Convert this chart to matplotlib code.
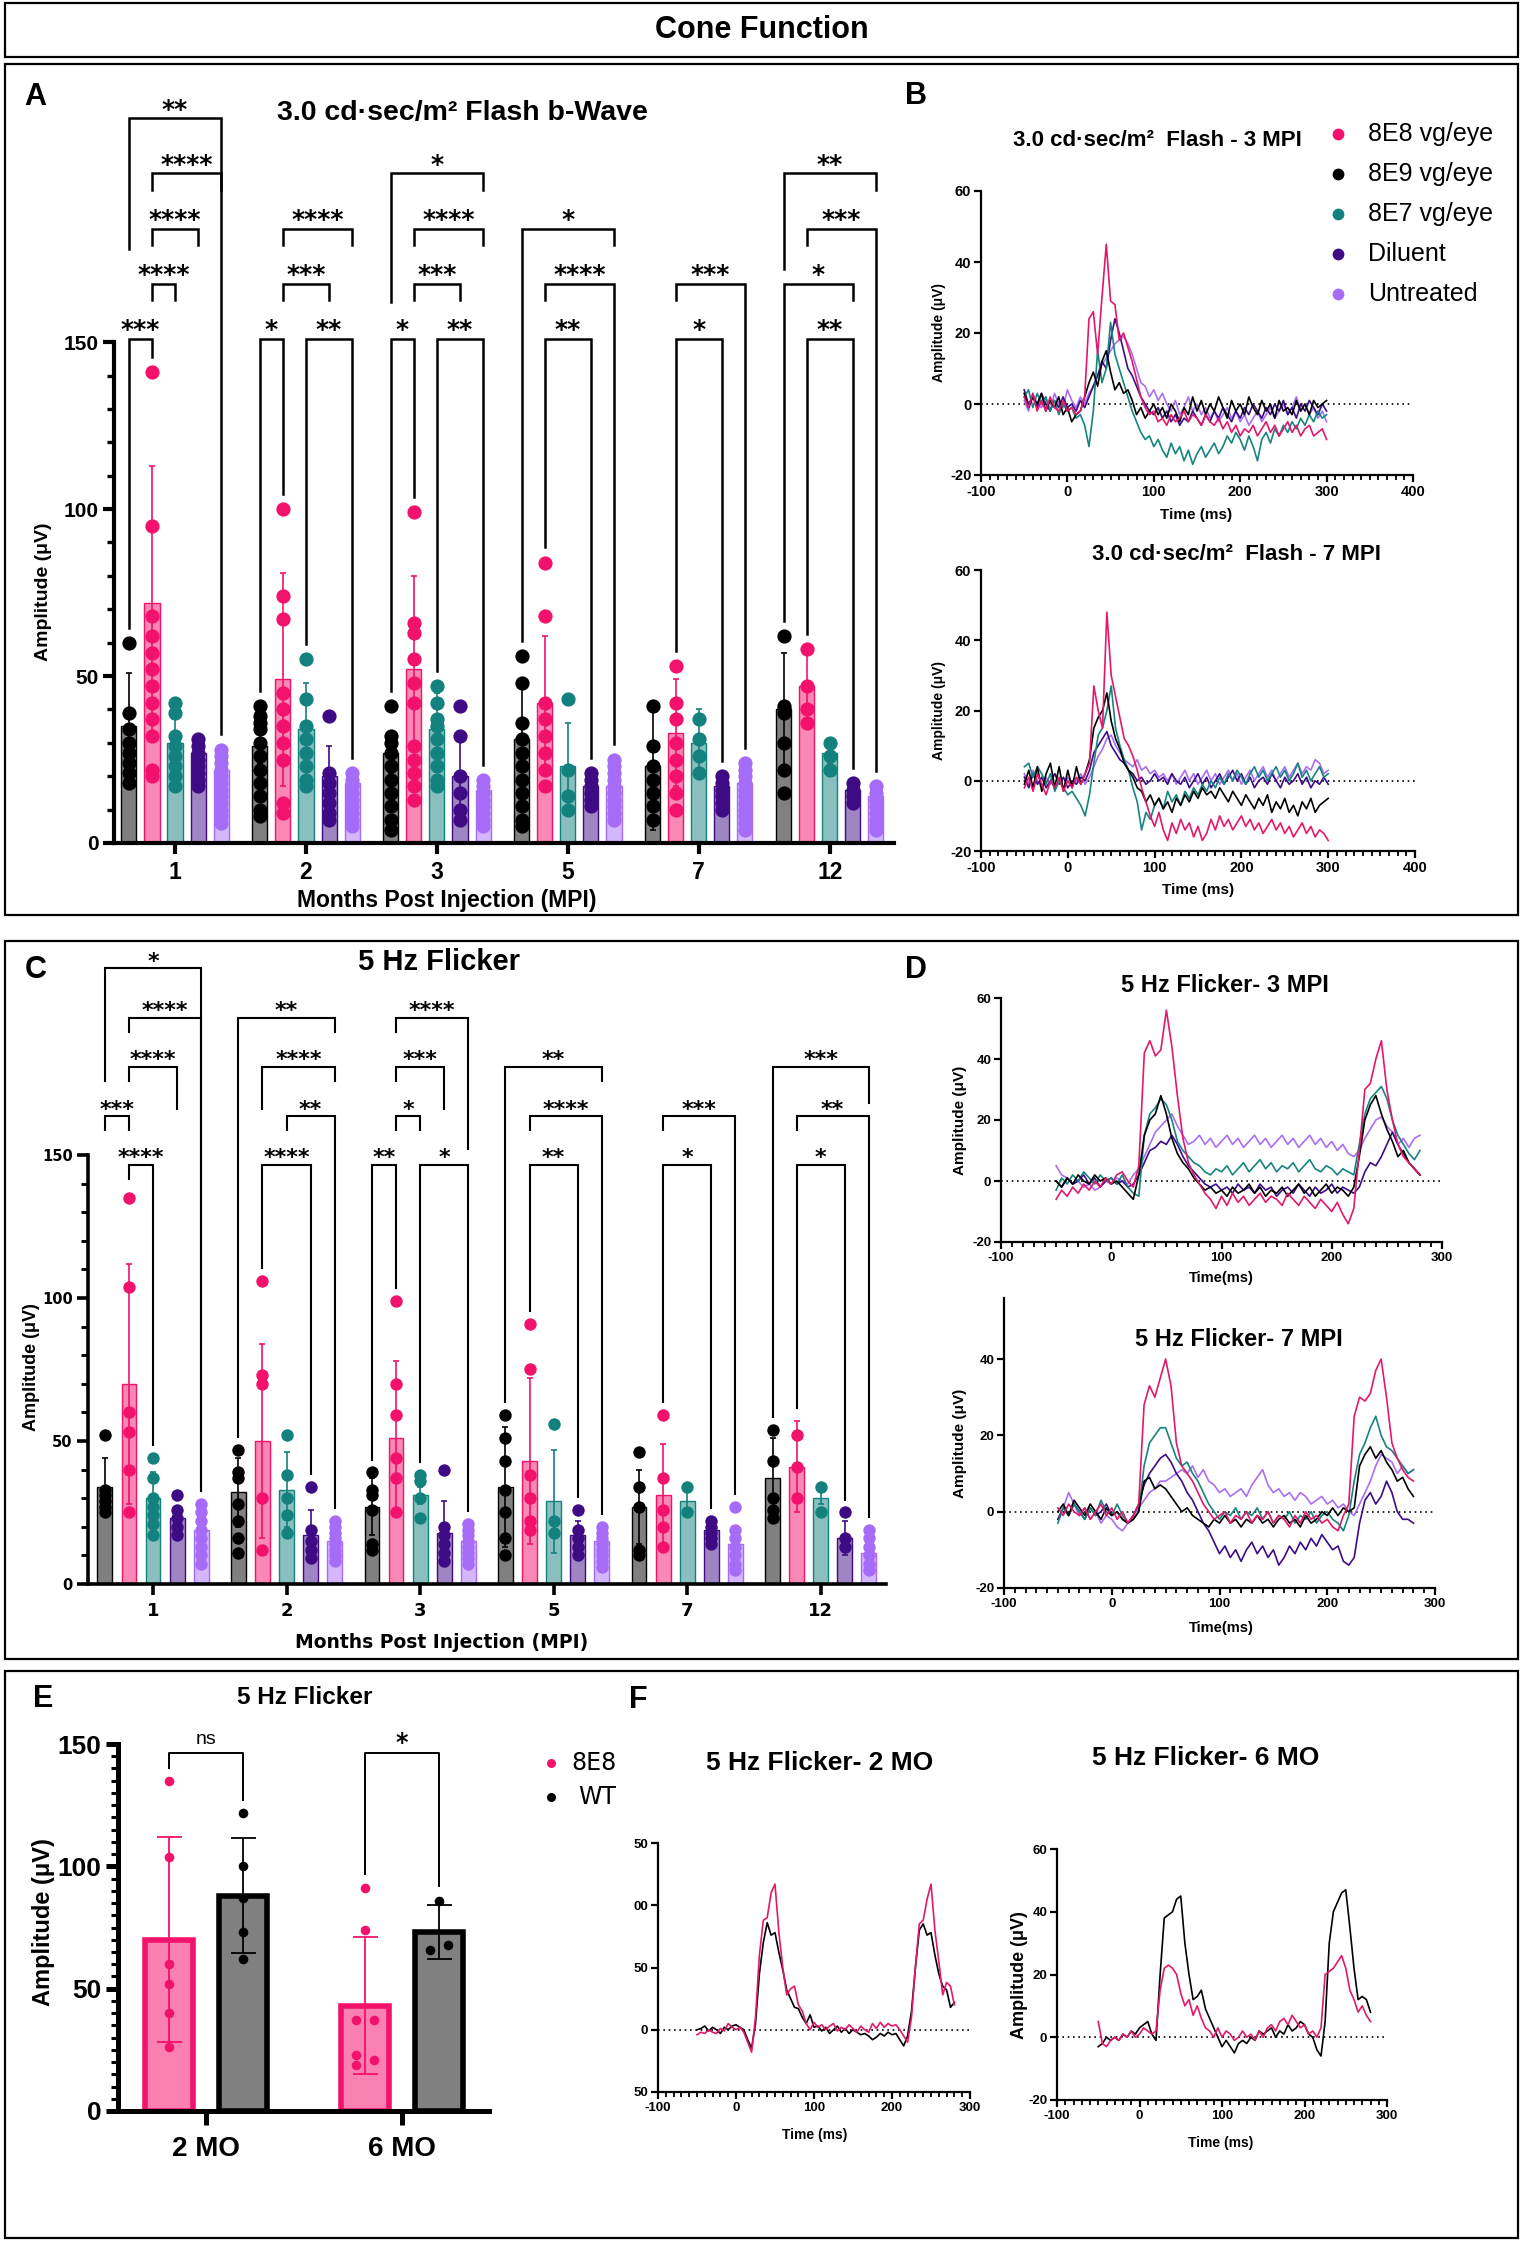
import numpy as np
import matplotlib
matplotlib.use('Agg')
import matplotlib.pyplot as plt
from matplotlib import colors as mcolors
from matplotlib.font_manager import FontProperties
from matplotlib.patches import Rectangle

# ------------------------------------------------------------------ data
MPI = ['1', '2', '3', '5', '7', '12']
SERIES = ['8E9 vg/eye', '8E8 vg/eye', '8E7 vg/eye', 'Diluent', 'Untreated']   # bar order
COLORS = ['#000000', '#F2116B', '#13817E', '#3E0B84', '#A66CF7']
LEGEND_ORDER = [1, 0, 2, 3, 4]

# Panel A: 3.0 cd.s/m2 flash b-wave (uV)
A_MEAN = [[35, 72, 30, 27, 22], [29, 49, 34, 20, 18], [27, 52, 34, 20, 16],
          [31, 42, 23, 17, 17], [23, 33, 30, 17, 18], [40, 47, 27, 16, 14]]
A_SD = [[16, 41, 7, 3, 5], [5, 32, 14, 9, 3], [6, 28, 11, 12, 3],
        [17, 20, 13, 3, 4], [19, 16, 10, 2, 4], [17, 10, 3, 2, 3]]
A_DOTS = [
    [[60, 39, 34, 30, 27, 24, 21, 18], [141, 95, 68, 62, 57, 52, 47, 42, 37, 32, 22, 20],
     [42, 39, 32, 29, 26, 23, 20, 17], [31, 29, 27, 25, 23, 21, 19, 17],
     [28, 26, 24, 22, 20, 18, 16, 14, 12, 10, 8, 6]],
    [[41, 38, 36, 34, 30, 26, 22, 18, 14, 10, 8], [100, 74, 67, 45, 40, 35, 30, 25, 12, 9],
     [55, 43, 35, 31, 27, 23, 19, 17], [38, 21, 18, 15, 12, 9, 7], [21, 19, 17, 15, 13, 11, 9, 7, 5]],
    [[41, 32, 30, 27, 23, 19, 15, 11, 7, 4], [99, 66, 63, 55, 48, 42, 29, 25, 21, 17, 13],
     [47, 42, 37, 35, 31, 27, 23, 19, 17], [41, 32, 20, 15, 10, 7], [19, 17, 15, 13, 11, 9, 7, 5]],
    [[56, 48, 36, 31, 27, 23, 19, 15, 11, 7, 5], [84, 68, 42, 37, 32, 27, 22, 17],
     [43, 22, 14, 10], [21, 19, 17, 15, 13, 11], [25, 23, 21, 19, 17, 15, 13, 11, 9, 7]],
    [[41, 29, 23, 19, 15, 11, 7], [53, 42, 37, 30, 25, 20, 15, 10], [37, 31, 26, 21],
     [20, 18, 16, 14, 12, 10], [24, 22, 20, 18, 16, 14, 12, 10, 8, 6, 4]],
    [[62, 41, 40, 39, 30, 22, 15], [58, 47, 40, 36], [30, 26, 22], [18, 16, 14, 12],
     [17, 15, 13, 11, 9, 7, 5, 4]],
]
A_ROWS = [151, 167.5, 184, 200.5, 217]
# (group, bar i, bar j, row, label, left leg end, right leg end)  S=short, L=to bar top
A_BRACKETS = [
    (0, 0, 1, 0, '***', 'L', 'L'), (0, 1, 2, 1, '****', 'S', 'S'), (0, 1, 3, 2, '****', 'S', 'S'),
    (0, 1, 4, 3, '****', 'S', 'S'), (0, 0, 4, 4, '**', 178, 'L'),
    (1, 0, 1, 0, '*', 'L', 'L'), (1, 2, 4, 0, '**', 'L', 'L'), (1, 1, 3, 1, '***', 'S', 'S'),
    (1, 1, 4, 2, '****', 'S', 'S'),
    (2, 0, 1, 0, '*', 'L', 'L'), (2, 2, 4, 0, '**', 'L', 'L'), (2, 1, 3, 1, '***', 'S', 'S'),
    (2, 1, 4, 2, '****', 'S', 'S'), (2, 0, 4, 3, '*', 162, 'S'),
    (3, 1, 3, 0, '**', 'L', 'L'), (3, 1, 4, 1, '****', 'S', 'L'), (3, 0, 4, 2, '*', 'L', 'S'),
    (4, 1, 3, 0, '*', 'L', 'L'), (4, 1, 4, 1, '***', 'S', 'L'),
    (5, 1, 3, 0, '**', 'L', 'L'), (5, 0, 3, 1, '*', 'L', 'S'), (5, 1, 4, 2, '***', 'S', 'L'),
    (5, 0, 4, 3, '**', 172, 'S'),
]

# Panel C: 5 Hz flicker (uV)
C_MEAN = [[34, 70, 30, 23, 19], [32, 50, 33, 17, 15], [27, 51, 31, 18, 15],
          [34, 43, 29, 17, 15], [27, 31, 29, 19, 14], [37, 41, 30, 16, 11]]
C_SD = [[10, 42, 9, 4, 4], [12, 34, 13, 9, 3], [10, 27, 3, 11, 3],
        [21, 29, 18, 5, 3], [13, 18, 3, 3, 4], [14, 16, 2, 6, 3]]
C_DOTS = [
    [[52, 33, 31, 29, 27, 25], [135, 104, 60, 53, 40, 25], [44, 37, 30, 27, 24, 21, 17],
     [31, 26, 23, 20, 17], [28, 25, 22, 19, 16, 13, 10, 7]],
    [[47, 39, 37, 28, 22, 16, 11], [106, 73, 70, 30, 12], [52, 38, 30, 24, 18],
     [34, 19, 15, 12, 9], [22, 20, 18, 16, 14, 12, 10, 8]],
    [[39, 33, 31, 26, 14, 12], [99, 70, 59, 44, 37, 25], [38, 36, 30, 23],
     [40, 20, 17, 14, 11, 8], [21, 19, 17, 15, 13, 11, 9, 7]],
    [[59, 51, 43, 33, 25, 16, 10], [91, 75, 38, 30, 22, 19], [56, 22, 18],
     [26, 19, 16, 13, 10], [20, 18, 16, 14, 12, 10, 8, 6]],
    [[46, 34, 27, 12, 10], [59, 37, 26, 20, 13], [34, 25], [22, 20, 18, 16, 14],
     [27, 19, 16, 13, 10, 7, 5]],
    [[54, 43, 30, 26, 23], [52, 41, 30], [34, 25], [25, 16, 13], [19, 16, 13, 10, 7, 5]],
]
C_ROWS = [146.5, 163.6, 180.8, 198, 215.2]
C_BRACKETS = [
    (0, 1, 2, 0, '****', 'S', 'L'), (0, 0, 1, 1, '***', 'S', 'S'), (0, 1, 3, 2, '****', 'S', 166),
    (0, 1, 4, 3, '****', 'S', 'L'), (0, 0, 4, 4, '*', 176, 'L'),
    (1, 1, 3, 0, '****', 'L', 'L'), (1, 2, 4, 1, '**', 'S', 'L'), (1, 1, 4, 2, '****', 166, 'S'),
    (1, 0, 4, 3, '**', 'L', 'S'),
    (2, 0, 1, 0, '**', 'L', 'L'), (2, 2, 4, 0, '*', 'L', 'L'), (2, 1, 2, 1, '*', 'S', 'S'),
    (2, 1, 3, 2, '***', 'S', 166), (2, 1, 4, 3, '****', 'S', 152),
    (3, 1, 3, 0, '**', 'L', 'L'), (3, 1, 4, 1, '****', 'S', 'L'), (3, 0, 4, 2, '**', 'L', 'S'),
    (4, 1, 3, 0, '*', 'L', 'L'), (4, 1, 4, 1, '***', 'S', 'L'),
    (5, 1, 3, 0, '*', 'L', 'L'), (5, 1, 4, 1, '**', 'S', 'L'), (5, 0, 4, 2, '***', 'L', 168),
]

# Panel E
E_GROUPS = ['2 MO', '6 MO']
E_MEAN_8E8 = [70, 43]
E_SD_8E8 = [42, 28]
E_MEAN_WT = [88, 73]
E_SD_WT = [23.5, 11]
E_DOTS_8E8 = [[135, 104, 60, 52, 40, 26], [91, 74, 37, 37, 23, 21, 19]]
E_SIDE_8E8 = [[0, 0, 0, 0, 0, 0], [0, 0, -1, 1, -1, 1, -1]]
E_DOTS_WT = [[122, 100, 87, 73, 62], [86, 68, 66]]
E_SIDE_WT = [[0, 0, 0, 0, 0], [0, 1, -1]]
E_SIG = ['ns', '*']
E_SIG_LEVEL = [146.5, 146.5]
E_SIG_ENDS = [(140, 127), (97, 92)]

# Waveforms (uV), sampled every 5 ms starting at -50 ms
B3_8E8 = [2,-1,3,-2,1,-2,2,-1,-2,1, -2,-1,-3,-2,2,24,26,14,30,45, 29,28,18,20,16,12,7,2,-1,-3,
          -2,-5,-4,-6,-3,-5,-4,-2,-5,-3, -4,-6,-3,-5,-6,-4,-7,-5,-8,-6, -9,-7,-8,-6,-9,-7,-5,-8,-6,-9,
          -7,-5,-8,-6,-9,-7,-6,-9,-8,-7, -10]
B3_8E9 = [3,-1,2,0,3,-2,1,-1,2,-3, -1,-5,-3,-2,2,6,9,5,12,15, 9,4,6,3,4,1,-3,-1,-4,-2,
          0,-3,-1,-4,0,-2,-5,-1,-3,2, -2,1,-3,0,-2,2,-1,-4,1,-2, 0,-3,2,-1,-3,1,-2,0,-4,1,
          -2,-1,-3,1,-2,0,-3,1,-1,0, 1]
B3_8E7 = [2,4,-1,3,0,2,-2,1,-3,0, -2,-1,-4,-3,-6,-12,-2,15,6,10, 23,14,10,6,2,-2,-5,-8,-10,-9,
          -12,-10,-13,-15,-11,-14,-12,-16,-13,-17, -14,-12,-15,-13,-11,-14,-12,-9,-11,-8,
          -10,-13,-9,-12,-16,-10,-8,-11,-7,-9, -6,-8,-5,-7,-4,-6,-3,-5,-2,-4, -3]
B3_DIL = [4,0,2,-1,3,0,-2,1,-1,2, -1,0,-2,1,-1,2,5,8,12,10, 18,24,20,15,10,8,5,2,0,-2,
          -3,-1,-4,-2,-5,-3,-6,-4,-5,-2, -4,-6,-3,-5,-2,-4,-1,-3,-5,-2, -4,-1,-3,0,-2,-4,-1,-3,0,-2,
          1,-3,-1,-4,0,-2,1,-1,-3,0, -2]
B3_UNT = [1,-2,3,0,-1,2,-2,3,0,-1, 4,1,-1,2,0,3,5,8,11,13, 15,17,18,19,17,14,10,6,5,2,
          4,1,3,0,-2,1,-3,-1,2,-2, 0,-3,-1,-4,-2,-5,-3,-1,-4,-2, -5,-3,-6,-4,-2,-5,-3,-1,-4,-2,
          0,-3,-1,2,-2,0,-3,-1,-4,-2, -5]

B7_8E8 = [-2,1,-3,2,-1,-4,0,-2,1,-3, 0,-2,1,-1,2,5,27,20,15,48, 30,24,18,12,10,7,3,-2,-6,-10,
          -13,-9,-14,-17,-12,-15,-11,-14,-12,-16, -13,-17,-15,-11,-14,-10,-13,-11,-14,-12,
          -10,-13,-11,-14,-12,-15,-13,-11,-14,-12, -15,-13,-16,-14,-12,-15,-13,-16,-14,-15, -17]
B7_8E9 = [-1,3,-2,4,-3,2,5,-2,4,-3, 3,-2,4,-1,2,6,15,18,20,25, 17,12,9,5,3,1,-2,-3,-6,-4,
          -7,-5,-8,-6,-9,-5,-7,-4,-6,-3, -5,-2,-4,-3,-5,-2,-4,-6,-3,-5, -7,-4,-6,-8,-5,-7,-4,-9,-6,-8,
          -5,-9,-7,-10,-6,-8,-5,-9,-7,-6, -5]
B7_8E7 = [4,5,1,4,2,-1,2,-3,0,-2, -4,-3,-5,-7,-10,-4,5,13,15,20, 27,15,10,6,3,-2,-6,-14,-9,-11,
          -7,-5,-8,-3,-6,-4,-7,-3,-5,-2, -4,-1,-3,0,-2,1,-1,2,0,3, 1,-1,2,4,1,3,0,2,4,1,
          3,0,2,5,1,3,0,2,4,1, 2]
B7_DIL = [1,-2,2,-1,1,-2,0,2,-1,1, -2,0,-1,1,0,3,8,10,12,14, 10,8,6,5,3,2,0,1,-1,0,
          2,0,1,-1,2,0,-1,1,-2,0, 2,-1,1,-2,0,2,-1,1,3,0, 2,-1,1,-2,0,1,-1,2,0,-2,
          1,-1,0,2,-1,1,-2,0,-1,1, -1]
B7_UNT = [2,-1,3,0,-2,1,-1,2,0,-2, 1,-1,0,2,-1,1,4,7,9,12, 13,10,8,6,5,4,6,3,4,2,
          3,1,2,0,2,-1,1,3,0,2, -1,1,3,0,2,-1,1,3,0,2, -1,1,3,0,2,4,1,3,0,2,
          4,1,3,5,2,4,3,6,5,2, 3]

D3_8E8 = [-6,-3,-5,-2,-4,-1,-3,0,-2,1, -1,2,3,0,-2,5,42,46,41,43, 56,44,28,14,6,2,-1,-4,-6,-9,
          -5,-8,-4,-7,-5,-8,-6,-4,-7,-5, -6,-8,-4,-6,-8,-5,-7,-9,-6,-8, -10,-7,-11,-14,-9,10,30,32,40,46,
          30,20,12,8,6,4,2]
D3_8E9 = [0,-2,1,-1,2,0,-1,2,0,1, -1,0,-2,-4,-6,2,15,20,22,28, 22,14,9,6,4,1,-1,-3,-2,-4,
          -3,-5,-2,-4,-3,-1,-4,-2,-5,-3, -4,-2,-5,-3,-1,-4,-2,-5,-3,-1, -4,-2,-3,-5,-2,8,20,25,28,22,
          17,13,8,10,6,4,2]
D3_8E7 = [-3,1,-1,2,0,3,1,-1,2,0, 1,-1,2,-2,-4,-5,15,22,24,27, 25,20,13,10,8,6,5,3,2,4,
          3,5,2,4,6,3,5,7,4,6, 3,5,4,6,3,5,7,4,3,5, 4,2,4,3,2,12,22,27,29,31,
          27,20,15,12,9,7,10]
D3_DIL = [0,-2,1,-1,0,2,-1,1,-2,0, 1,-1,0,-2,-1,2,6,10,11,13, 12,15,12,8,5,3,1,-1,-2,-1,
          -3,-2,-4,-1,-3,-2,-4,-1,-3,-2, -5,-3,-2,-4,-1,-3,-5,-2,-4,-3, -1,-4,-2,-3,-4,-2,3,6,5,8,
          12,16,12,9,6,4,2]
D3_UNT = [5,2,1,-1,0,-2,-1,-3,-2,0, -1,1,0,-1,2,4,8,12,16,18, 20,22,18,15,12,13,15,12,14,11,
          13,15,12,14,11,13,15,12,14,11, 13,15,12,14,11,13,15,12,14,11, 13,10,12,9,8,10,14,17,20,21,
          18,16,12,14,11,14,15]

D7_8E8 = [1,-1,2,0,-1,1,-2,0,2,-1, 1,-2,0,-3,-1,2,28,33,30,35, 40,33,18,12,10,8,5,2,0,-2,
          -1,0,-3,-1,-2,0,-3,-1,-2,0, -3,-1,-2,-4,-1,-3,0,-2,-1,-3, -2,-4,-5,-1,2,25,30,29,31,37,
          40,30,18,14,11,9,8]
D7_8E7 = [-3,1,-1,2,0,-2,1,-1,3,0, -1,2,-1,-3,-2,0,12,18,20,22, 22,18,14,12,13,10,8,5,2,0,
          -2,0,-1,1,-2,0,-1,1,-2,0, -3,-1,-2,0,-3,-1,-2,0,-3,-1, 0,-2,-3,-5,-1,8,15,18,22,25,
          20,17,16,14,12,10,11]
D7_8E9 = [0,2,-1,3,1,-1,2,0,-2,1, -1,0,-2,-3,-2,0,8,9,6,7, 6,4,2,0,1,-1,-2,-3,-4,-2,
          -3,-1,-3,-2,-4,-2,-3,-1,-3,-2, -4,-2,-1,-3,-2,-4,-1,-3,-2,0, -1,1,-1,1,0,1,12,15,17,14,
          16,13,11,8,9,6,4]
D7_DIL = [-2,1,-1,2,0,-2,1,-1,0,2, -1,0,-2,-3,-1,2,7,10,12,14, 15,13,10,8,5,3,0,-3,-5,-8,
          -11,-9,-12,-10,-13,-10,-8,-11,-9,-12, -10,-14,-12,-9,-11,-8,-10,-7,-9,-6, -8,-10,-9,-13,-14,-12,-3,3,5,2,
          4,8,5,0,-2,-2,-3]
D7_UNT = [-2,1,5,2,-1,1,-2,0,-3,-1, -2,-4,-5,-3,-1,1,3,5,6,8, 8,9,10,11,10,12,9,11,8,7,
          5,6,4,5,6,4,7,9,11,7, 5,6,4,5,3,5,4,2,3,4, 2,3,1,2,0,-1,2,5,8,12,
          15,14,13,10,12,10,11]

F2_8E8 = [-4,-2,-3,0,-2,-3,1,-1,5,2, 0,2,-2,-10,-18,10,60,88,90,110, 117,78,50,28,33,35,20,15,5,0,
          6,2,4,0,3,5,-1,2,0,4, 1,-2,3,0,-2,5,1,6,2,5, 3,4,0,-5,-10,10,50,85,88,105,
          117,80,55,28,38,35,20]
F2_WT = [0,1,3,-1,2,0,-3,2,0,3, 4,2,0,-8,-15,5,45,70,86,76, 78,62,48,32,25,18,17,10,5,12,
         2,3,-1,2,-3,0,3,-2,1,-3, 0,-2,-4,-3,-5,-8,-6,-3,-5,-2, -4,-3,-8,-13,-5,15,50,80,85,76,
         78,60,45,35,32,18,22]
F6_WT = [-3,-2,0,-1,0,-1,1,0,2,1, 3,4,5,1,-1,20,38,39,40,44, 45,30,20,12,13,15,9,6,3,0,
         -3,-1,-3,-5,-2,-1,-2,0,-1,2, 1,2,3,0,2,1,4,2,3,5, 4,1,0,-4,-6,5,30,40,43,46,
         47,35,22,12,13,12,8]
F6_8E8 = [5,-2,-3,-1,0,-1,1,0,2,0, 1,3,2,1,2,15,22,23,22,20, 14,10,12,7,10,6,3,2,0,3,
          0,2,1,-1,0,2,0,1,-1,2, 0,3,4,2,5,6,4,7,5,3, 4,1,2,0,3,20,21,22,24,26,
          22,15,12,8,10,7,5]
T_START, T_STEP = -50, 5
F_LEFT_YTICKS = [-50, 0, 50, 100, 150]
F_LEFT_YLABELS = ['50', '0', '50', '00', '50']   # labels are cropped in the original figure

TRACE_COLORS = {'8E8': '#E3186B', '8E9': '#000000', '8E7': '#17847F', 'DIL': '#3C0C86', 'UNT': '#A96EF2'}

# ------------------------------------------------------------------ figure
W, H = 1524, 2246
fig = plt.figure(figsize=(W / 100, H / 100), dpi=100)
fig.patch.set_facecolor('white')

SANS = 'Liberation Sans'
WIDE = 'DejaVu Sans'


def fp(fam, size, weight='bold'):
    return FontProperties(family=fam, size=size, weight=weight)


ov = fig.add_axes([0, 0, 1, 1])
ov.set_xlim(0, W)
ov.set_ylim(H, 0)
ov.axis('off')


def T(x, y, s, prop, ha='center', va='center', **kw):
    ov.text(x, y, s, fontproperties=prop, ha=ha, va=va, **kw)


def box(x0, y0, x1, y1, lw=1.6):
    ov.add_patch(Rectangle((x0, y0), x1 - x0, y1 - y0, fill=False, ec='black', lw=lw))


def ax_px(l, t, r, b):
    a = fig.add_axes([l / W, 1 - b / H, (r - l) / W, (b - t) / H])
    a.patch.set_alpha(0)
    return a


def tint(c, f=0.5):
    r, g, b = mcolors.to_rgb(c)
    return (1 - (1 - r) * f, 1 - (1 - g) * f, 1 - (1 - b) * f)


# frames
box(5, 3, 1518, 57)
box(5, 64, 1518, 915)
box(5, 941, 1518, 1659)
box(5, 1671, 1518, 2238)
T(762, 30, 'Cone Function', fp(SANS, 22))


def bar_panel(ax, means, sds, dots, pitch, width, ms):
    tops = []
    for g in range(len(means)):
        row = []
        for k in range(5):
            x = g + (k - 2) * pitch
            c = COLORS[k]
            m = means[g][k]
            ax.bar(x, m, width, color=tint(c, 0.5), edgecolor=c, linewidth=1.0, zorder=2)
            ax.errorbar([x], [m], yerr=[[sds[g][k]], [sds[g][k]]], fmt='none', ecolor=c,
                        elinewidth=1.2, capsize=2.5, capthick=1.2, zorder=3)
            d = dots[g][k]
            ax.scatter(np.full(len(d), x), d, s=ms, color=c, linewidths=0, zorder=4)
            row.append(max(max(d), m + sds[g][k]))
        tops.append(row)
    return tops


def brackets(ax, spec, rows, tops, pitch, short, gap, lw, fsize):
    for g, i, j, r, lab, le, re in spec:
        xi = g + (i - 2) * pitch
        xj = g + (j - 2) * pitch
        lev = rows[r]

        def end(e, k):
            if e == 'S':
                return lev - short
            if e == 'L':
                return tops[g][k] + gap
            return e
        ax.plot([xi, xi, xj, xj], [end(le, i), lev, lev, end(re, j)], color='black', lw=lw,
                clip_on=False, zorder=6, solid_joinstyle='miter')
        ax.annotate(lab, ((xi + xj) / 2, lev), xytext=(0, -2.5), textcoords='offset points',
                    ha='center', va='bottom', fontproperties=fp(WIDE, fsize),
                    annotation_clip=False)


def style_bar_axes(ax, xlim, ylim, ytick_prop, xtick_prop, slw):
    ax.set_xlim(*xlim)
    ax.set_ylim(*ylim)
    ax.spines['top'].set_visible(False)
    ax.spines['right'].set_visible(False)
    ax.spines['left'].set_bounds(0, 150)
    ax.spines['left'].set_linewidth(slw)
    ax.spines['bottom'].set_linewidth(slw)
    ax.set_yticks([0, 50, 100, 150], labels=['0', '50', '100', '150'], fontproperties=ytick_prop)
    ax.set_yticks(np.arange(0, 151, 10), minor=True)
    ax.set_xticks(range(len(MPI)), labels=MPI, fontproperties=xtick_prop)
    ax.tick_params(axis='y', which='major', length=8, width=slw, pad=3)
    ax.tick_params(axis='y', which='minor', length=5, width=slw * 0.8)
    ax.tick_params(axis='x', which='major', length=8, width=slw, pad=5)


# ---------------- Panel A
axA = ax_px(114, 95, 894, 843)
pA, wA = 0.176, 0.115
topsA = bar_panel(axA, A_MEAN, A_SD, A_DOTS, pA, wA, 105)
style_bar_axes(axA, (-0.466, 5.49), (0, 224), fp(SANS, 15), fp(SANS, 16.5), 3)
brackets(axA, A_BRACKETS, A_ROWS, topsA, pA, 5, 4.5, 1.8, 18)
T(35, 97, 'A', fp(SANS, 22))
T(462, 113, '3.0 cd·sec/m² Flash b-Wave', fp(SANS, 20.5))
T(43, 592, 'Amplitude (μV)', fp(SANS, 14), rotation=90)
T(447, 901, 'Months Post Injection (MPI)', fp(SANS, 16.5))

# ---------------- Panel C
axC = ax_px(88, 949, 886, 1584)
pC, wC = 0.18, 0.112
topsC = bar_panel(axC, C_MEAN, C_SD, C_DOTS, pC, wC, 80)
style_bar_axes(axC, (-0.487, 5.49), (0, 222), fp(WIDE, 10.5), fp(WIDE, 13), 2.6)
brackets(axC, C_BRACKETS, C_ROWS, topsC, pC, 5, 4.5, 1.5, 16)
T(36, 970, 'C', fp(SANS, 22))
T(439, 962, '5 Hz Flicker', fp(SANS, 21))
T(31, 1367, 'Amplitude (μV)', fp(SANS, 13), rotation=90)
T(442, 1642, 'Months Post Injection (MPI)', fp(WIDE, 13.5))


# ---------------- waveform helpers
def trace_ax(ax, xlim, ylim, yticks, tick_prop, ylabels=None):
    ax.set_xlim(*xlim)
    ax.set_ylim(*ylim)
    ax.spines['top'].set_visible(False)
    ax.spines['right'].set_visible(False)
    for s in ('left', 'bottom'):
        ax.spines[s].set_linewidth(1.6)
    xt = np.arange(xlim[0], xlim[1] + 1, 100)
    ax.set_xticks(xt, labels=[str(int(v)) for v in xt], fontproperties=tick_prop)
    ax.set_xticks(np.arange(xlim[0], xlim[1] + 1, 10), minor=True)
    ax.set_yticks(yticks, labels=ylabels if ylabels else [str(v) for v in yticks],
                  fontproperties=tick_prop)
    ax.tick_params(which='major', length=5, width=1.6, pad=2)
    ax.tick_params(axis='x', which='minor', length=3.5, width=1.3)
    ax.axhline(0, color='black', lw=1.2, ls=(0, (1, 2.2)), zorder=1)


def draw_traces(ax, items):
    for vals, key in items:
        t = T_START + T_STEP * np.arange(len(vals))
        ax.plot(t, vals, color=TRACE_COLORS[key], lw=1.2, zorder=3)


# ---------------- Panel B
axB1 = ax_px(981, 191, 1413, 475)
trace_ax(axB1, (-100, 400), (-20, 60), [-20, 0, 20, 40, 60], fp(SANS, 10.5))
draw_traces(axB1, [(B3_UNT, 'UNT'), (B3_DIL, 'DIL'), (B3_8E7, '8E7'), (B3_8E9, '8E9'), (B3_8E8, '8E8')])
axB2 = ax_px(981, 570, 1415, 851)
trace_ax(axB2, (-100, 400), (-20, 60), [-20, 0, 20, 40, 60], fp(SANS, 10.5))
draw_traces(axB2, [(B7_UNT, 'UNT'), (B7_DIL, 'DIL'), (B7_8E7, '8E7'), (B7_8E9, '8E9'), (B7_8E8, '8E8')])
T(916, 96, 'B', fp(SANS, 22))
T(1157, 141, '3.0 cd·sec/m²  Flash - 3 MPI', fp(SANS, 16))
T(1236, 555, '3.0 cd·sec/m²  Flash - 7 MPI', fp(SANS, 16))
T(939, 333, 'Amplitude (μV)', fp(SANS, 10), rotation=90)
T(939, 710, 'Amplitude (μV)', fp(SANS, 10), rotation=90)
T(1196, 515, 'Time (ms)', fp(SANS, 11))
T(1198, 890, 'Time (ms)', fp(SANS, 11))
for n, k in enumerate(LEGEND_ORDER):
    y = 134 + 40 * n
    ov.plot([1338], [y], 'o', ms=8.5, color=COLORS[k], mec='none')
    T(1368, y, SERIES[k], fp(SANS, 18, 'normal'), ha='left')

# ---------------- Panel D
axD1 = ax_px(1001, 998, 1442, 1242)
trace_ax(axD1, (-100, 300), (-20, 60), [-20, 0, 20, 40, 60], fp(SANS, 9.5))
draw_traces(axD1, [(D3_UNT, 'UNT'), (D3_DIL, 'DIL'), (D3_8E7, '8E7'), (D3_8E9, '8E9'), (D3_8E8, '8E8')])
axD2 = ax_px(1004, 1298, 1435, 1588)
trace_ax(axD2, (-100, 300), (-20, 56), [-20, 0, 20, 40], fp(SANS, 9.5))
draw_traces(axD2, [(D7_UNT, 'UNT'), (D7_DIL, 'DIL'), (D7_8E7, '8E7'), (D7_8E9, '8E9'), (D7_8E8, '8E8')])
T(916, 970, 'D', fp(SANS, 22))
T(1225, 985, '5 Hz Flicker- 3 MPI', fp(SANS, 17))
T(1239, 1339, '5 Hz Flicker- 7 MPI', fp(SANS, 17))
T(960, 1120, 'Amplitude (μV)', fp(SANS, 11), rotation=90)
T(960, 1443, 'Amplitude (μV)', fp(SANS, 11), rotation=90)
T(1221, 1278, 'Time(ms)', fp(SANS, 10.5))
T(1221, 1628, 'Time(ms)', fp(SANS, 10.5))

# ---------------- Panel E
PINK = COLORS[1]
axE = ax_px(118, 1744, 489, 2111)
gx = np.arange(len(E_GROUPS))
off, bw, jit = 0.1875, 0.245, 0.047
axE.bar(gx - off, E_MEAN_8E8, bw, color='#FA80B2', edgecolor=PINK, linewidth=4, zorder=2)
axE.bar(gx + off, E_MEAN_WT, bw, color='#808080', edgecolor='black', linewidth=4, zorder=2)
axE.errorbar(gx - off, E_MEAN_8E8, yerr=E_SD_8E8, fmt='none', ecolor=PINK, elinewidth=1.3,
             capsize=9, capthick=1.3, zorder=3)
axE.errorbar(gx + off, E_MEAN_WT, yerr=E_SD_WT, fmt='none', ecolor='black', elinewidth=1.3,
             capsize=9, capthick=1.3, zorder=3)
for g in range(len(E_GROUPS)):
    axE.scatter(g - off + np.array(E_SIDE_8E8[g]) * jit, E_DOTS_8E8[g], s=48, color=PINK,
                linewidths=0, zorder=4)
    axE.scatter(g + off + np.array(E_SIDE_WT[g]) * jit, E_DOTS_WT[g], s=48, color='black',
                linewidths=0, zorder=4)
    xl, xr = g - off, g + off
    lev = E_SIG_LEVEL[g]
    le, re = E_SIG_ENDS[g]
    axE.plot([xl, xl, xr, xr], [le, lev, lev, re], color='black', lw=1.4, clip_on=False, zorder=6)
    if E_SIG[g] == 'ns':
        axE.annotate('ns', (g, lev), xytext=(0, 3), textcoords='offset points', ha='center',
                     va='bottom', fontproperties=fp(SANS, 14, 'normal'), annotation_clip=False)
    else:
        axE.annotate(E_SIG[g], (g, lev), xytext=(0, -2), textcoords='offset points', ha='center',
                     va='bottom', fontproperties=fp(WIDE, 17), annotation_clip=False)
axE.set_xlim(-0.449, 1.444)
axE.set_ylim(0, 150)
axE.spines['top'].set_visible(False)
axE.spines['right'].set_visible(False)
for s in ('left', 'bottom'):
    axE.spines[s].set_linewidth(3.6)
axE.set_yticks([0, 50, 100, 150], labels=['0', '50', '100', '150'], fontproperties=fp(SANS, 19))
axE.set_yticks(np.arange(0, 151, 5), minor=True)
axE.set_xticks(gx, labels=E_GROUPS, fontproperties=fp(SANS, 20))
axE.tick_params(axis='y', which='major', length=9, width=3.6, pad=3)
axE.tick_params(axis='y', which='minor', length=5, width=2.2)
axE.tick_params(axis='x', which='major', length=10, width=3.6, pad=8)
T(43, 1699, 'E', fp(SANS, 22))
T(305, 1697, '5 Hz Flicker', fp(SANS, 17.5))
T(44, 1922, 'Amplitude (μV)', fp(SANS, 17), rotation=90)
ov.plot([551], [1763], 'o', ms=6.5, color=PINK, mec='none')
ov.plot([551], [1797], 'o', ms=6.5, color='black', mec='none')
T(571, 1763, '8E8', fp(WIDE, 17, 'normal'), ha='left')
T(578, 1797, 'WT', fp(WIDE, 17, 'normal'), ha='left')

# ---------------- Panel F
axF1 = ax_px(658, 1843, 970, 2092)
trace_ax(axF1, (-100, 300), (-50, 150), F_LEFT_YTICKS, fp(SANS, 9.5), ylabels=F_LEFT_YLABELS)
draw_traces(axF1, [(F2_WT, '8E9'), (F2_8E8, '8E8')])
axF2 = ax_px(1057, 1849, 1387, 2100)
trace_ax(axF2, (-100, 300), (-20, 60), [-20, 0, 20, 40, 60], fp(SANS, 9.5))
draw_traces(axF2, [(F6_WT, '8E9'), (F6_8E8, '8E8')])
T(638, 1700, 'F', fp(SANS, 22))
T(820, 1763, '5 Hz Flicker- 2 MO', fp(SANS, 19))
T(1206, 1758, '5 Hz Flicker- 6 MO', fp(SANS, 19))
T(1019, 1975, 'Amplitude (μV)', fp(SANS, 13), rotation=90)
T(815, 2135, 'Time (ms)', fp(SANS, 10))
T(1221, 2143, 'Time (ms)', fp(SANS, 10))

fig.savefig('out.png', dpi=100, facecolor='white')
